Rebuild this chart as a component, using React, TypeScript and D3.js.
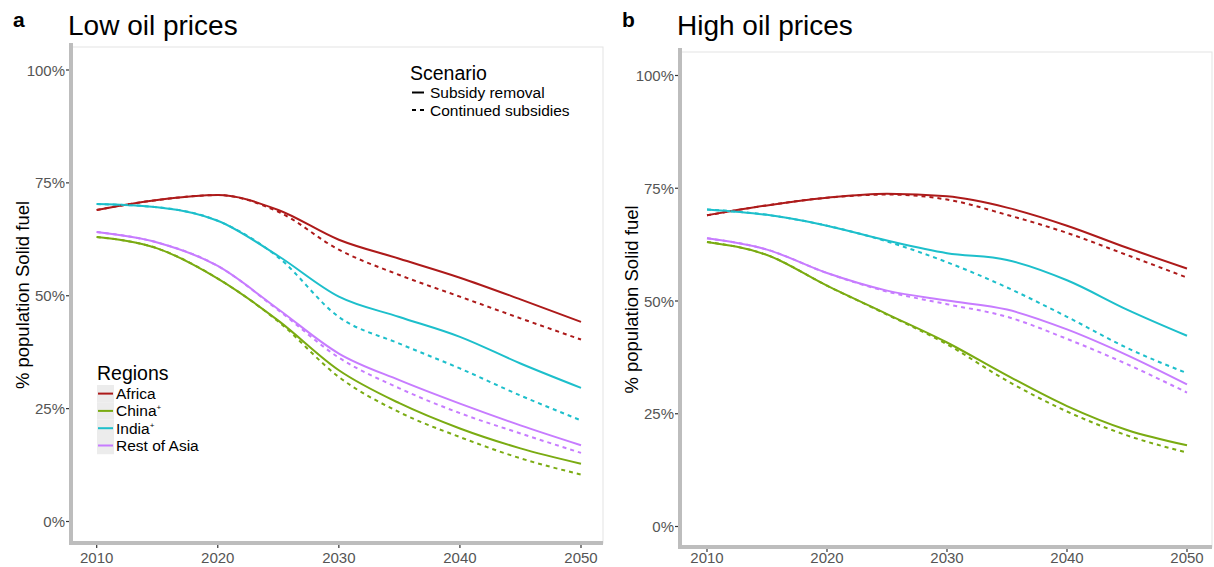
import React from "react";
import * as d3 from "d3";

// years sampled along the curves
const years = [2010, 2015, 2020, 2025, 2030, 2035, 2040, 2045, 2050];
const regions = ["Africa", "China", "India", "Rest of Asia"];
const regionColors = ["#ad1a1a", "#7aab12", "#1dbfcb", "#c77cff"];
const yTicks = [0, 25, 50, 75, 100];
const xTicks = [2010, 2020, 2030, 2040, 2050];

// Low oil prices: subsidy removal (solid)
const lowAfricaRemoval = [69, 71.2, 72.3, 69, 62.4, 58.2, 54, 49.2, 44.2];
const lowChinaRemoval = [63, 60.5, 53.8, 44.5, 33.5, 26.2, 20.6, 16.2, 12.8];
const lowIndiaRemoval = [70.3, 69.6, 66.6, 58.8, 49.8, 45.3, 40.9, 35, 29.6];
const lowRestRemoval = [64.1, 61.8, 56.6, 47, 37.2, 31.3, 26.1, 21.3, 16.9];
// Low oil prices: continued subsidies (dashed)
const lowAfricaContinued = [69, 71.2, 72.3, 68.6, 60.2, 54.6, 49.8, 45, 40.3];
const lowChinaContinued = [63, 60.5, 53.8, 44.3, 32, 24.2, 18.7, 14, 10.4];
const lowIndiaContinued = [70.3, 69.6, 66.6, 58.5, 45.3, 39.4, 33.9, 27.9, 22.4];
const lowRestContinued = [64.1, 61.8, 56.6, 46.8, 36.3, 29.5, 24, 19.5, 15.2];

// High oil prices: subsidy removal (solid)
const highAfricaRemoval = [69, 71.2, 72.9, 73.8, 73.2, 70.7, 66.7, 61.8, 57.2];
const highChinaRemoval = [63.1, 60.2, 53.4, 47.1, 40.8, 33.5, 26.7, 21.4, 18];
const highIndiaRemoval = [70.3, 69.1, 66.7, 63.4, 60.6, 59.1, 54.6, 48.1, 42.3];
const highRestRemoval = [63.9, 61.4, 56.2, 52.3, 50.1, 48.1, 43.7, 38, 31.5];
// High oil prices: continued subsidies (dashed)
const highAfricaContinued = [69, 71.2, 72.9, 73.6, 72.5, 69.1, 65.1, 60.2, 55.2];
const highChinaContinued = [63.1, 60.2, 53.4, 47, 40.4, 32.3, 25.5, 20.2, 16.4];
const highIndiaContinued = [70.3, 69.1, 66.7, 63.2, 58.6, 53, 46.5, 39.6, 34];
const highRestContinued = [63.9, 61.4, 56.2, 52.1, 49.3, 46.5, 41.6, 36, 29.7];

const lowRemoval = [lowAfricaRemoval, lowChinaRemoval, lowIndiaRemoval, lowRestRemoval];
const lowContinued = [lowAfricaContinued, lowChinaContinued, lowIndiaContinued, lowRestContinued];
const highRemoval = [highAfricaRemoval, highChinaRemoval, highIndiaRemoval, highRestRemoval];
const highContinued = [highAfricaContinued, highChinaContinued, highIndiaContinued, highRestContinued];

const FONT = "'Liberation Sans', Arial, sans-serif";
const TICK_COLOR = "#555";
const AXIS_COLOR = "#bdbdbd";

interface PanelProps {
  tag: string;
  title: string;
  left: number;
  right: number;
  top: number;
  bottom: number;
  x0: number;
  x1: number;
  y0: number;
  y100: number;
  solid: number[][];
  dashed: number[][];
  children?: React.ReactNode;
}

function Panel(p: PanelProps) {
  const x = d3.scaleLinear().domain([2010, 2050]).range([p.x0, p.x1]);
  const y = d3.scaleLinear().domain([0, 100]).range([p.y0, p.y100]);
  const line = d3
    .line<number>()
    .x((_, i) => x(years[i]))
    .y((d) => y(d))
    .curve(d3.curveMonotoneX);
  const midY = (p.top + p.bottom) / 2;

  return (
    <g>
      <text x={p.left - 59} y={27} fontSize={21} fontWeight="bold" fill="#000">
        {p.tag}
      </text>
      <text x={p.left - 4} y={35} fontSize={28} fill="#000">
        {p.title}
      </text>
      {/* panel border */}
      <rect
        x={p.left}
        y={p.top}
        width={p.right - p.left}
        height={p.bottom - p.top}
        fill="#fff"
        stroke="#e3e3e3"
        strokeWidth={1}
      />
      {/* axis lines */}
      <line x1={p.left - 1} x2={p.left - 1} y1={p.top - 4} y2={p.bottom + 2} stroke={AXIS_COLOR} strokeWidth={4} />
      <line x1={p.left - 3} x2={p.right} y1={p.bottom} y2={p.bottom} stroke={AXIS_COLOR} strokeWidth={4} />
      {/* y ticks */}
      {yTicks.map((t) => (
        <g key={"y" + t}>
          <line x1={p.left - 6} x2={p.left - 3} y1={y(t)} y2={y(t)} stroke="#333" strokeWidth={1.2} />
          <text x={p.left - 7} y={y(t) + 5.5} fontSize={15} fill={TICK_COLOR} textAnchor="end">
            {t + "%"}
          </text>
        </g>
      ))}
      {/* x ticks */}
      {xTicks.map((t) => (
        <g key={"x" + t}>
          <line x1={x(t)} x2={x(t)} y1={p.bottom + 2} y2={p.bottom + 5} stroke="#333" strokeWidth={1.2} />
          <text x={x(t)} y={562.5} fontSize={15} fill={TICK_COLOR} textAnchor="middle">
            {t}
          </text>
        </g>
      ))}
      <text
        transform={`translate(${p.left - 43},${midY}) rotate(-90)`}
        fontSize={18.5}
        fill="#000"
        textAnchor="middle"
      >
        % population Solid fuel
      </text>
      {/* lines */}
      {p.solid.map((s, i) => (
        <path key={"s" + i} d={line(s) || ""} fill="none" stroke={regionColors[i]} strokeWidth={2} />
      ))}
      {p.dashed.map((s, i) => (
        <path
          key={"d" + i}
          d={line(s) || ""}
          fill="none"
          stroke={regionColors[i]}
          strokeWidth={2}
          strokeDasharray="4,4"
        />
      ))}
      {p.children}
    </g>
  );
}

function Sup({ text, plus }: { text: string; plus: boolean }) {
  return (
    <>
      {text}
      {plus && (
        <tspan fontSize={8} dy={-6}>
          +
        </tspan>
      )}
    </>
  );
}

export default function App() {
  return (
    <svg
      width={1214}
      height={567}
      style={{ position: "absolute", left: 0, top: 0, fontFamily: FONT }}
    >
      <rect width={1214} height={567} fill="#fff" />
      <Panel
        tag="a"
        title="Low oil prices"
        left={72}
        right={603}
        top={47}
        bottom={543}
        x0={96.7}
        x1={581}
        y0={521.5}
        y100={70}
        solid={lowRemoval}
        dashed={lowContinued}
      >
        {/* scenario legend */}
        <text x={410} y={80} fontSize={19.5} fill="#000">Scenario</text>
        <line x1={412} x2={424} y1={92.5} y2={92.5} stroke="#000" strokeWidth={2} />
        <line x1={412} x2={424} y1={110} y2={110} stroke="#000" strokeWidth={2} strokeDasharray="4,4" />
        <text x={430} y={98} fontSize={15.5} fill="#000">Subsidy removal</text>
        <text x={430} y={115.5} fontSize={15.5} fill="#000">Continued subsidies</text>
        {/* regions legend */}
        <text x={97} y={380} fontSize={19.5} fill="#000">Regions</text>
        {regions.map((r, i) => (
          <g key={r}>
            <rect x={97} y={385 + i * 17.3} width={17} height={17.3} fill="#ececec" />
            <line
              x1={98}
              x2={113}
              y1={393.6 + i * 17.3}
              y2={393.6 + i * 17.3}
              stroke={regionColors[i]}
              strokeWidth={2}
            />
            <text x={116} y={399 + i * 17.3} fontSize={15.5} fill="#000">
              <Sup text={r} plus={r === "China" || r === "India"} />
            </text>
          </g>
        ))}
      </Panel>
      <Panel
        tag="b"
        title="High oil prices"
        left={681}
        right={1212}
        top={52}
        bottom={547}
        x0={707}
        x1={1187}
        y0={526.5}
        y100={75.5}
        solid={highRemoval}
        dashed={highContinued}
      />
    </svg>
  );
}
